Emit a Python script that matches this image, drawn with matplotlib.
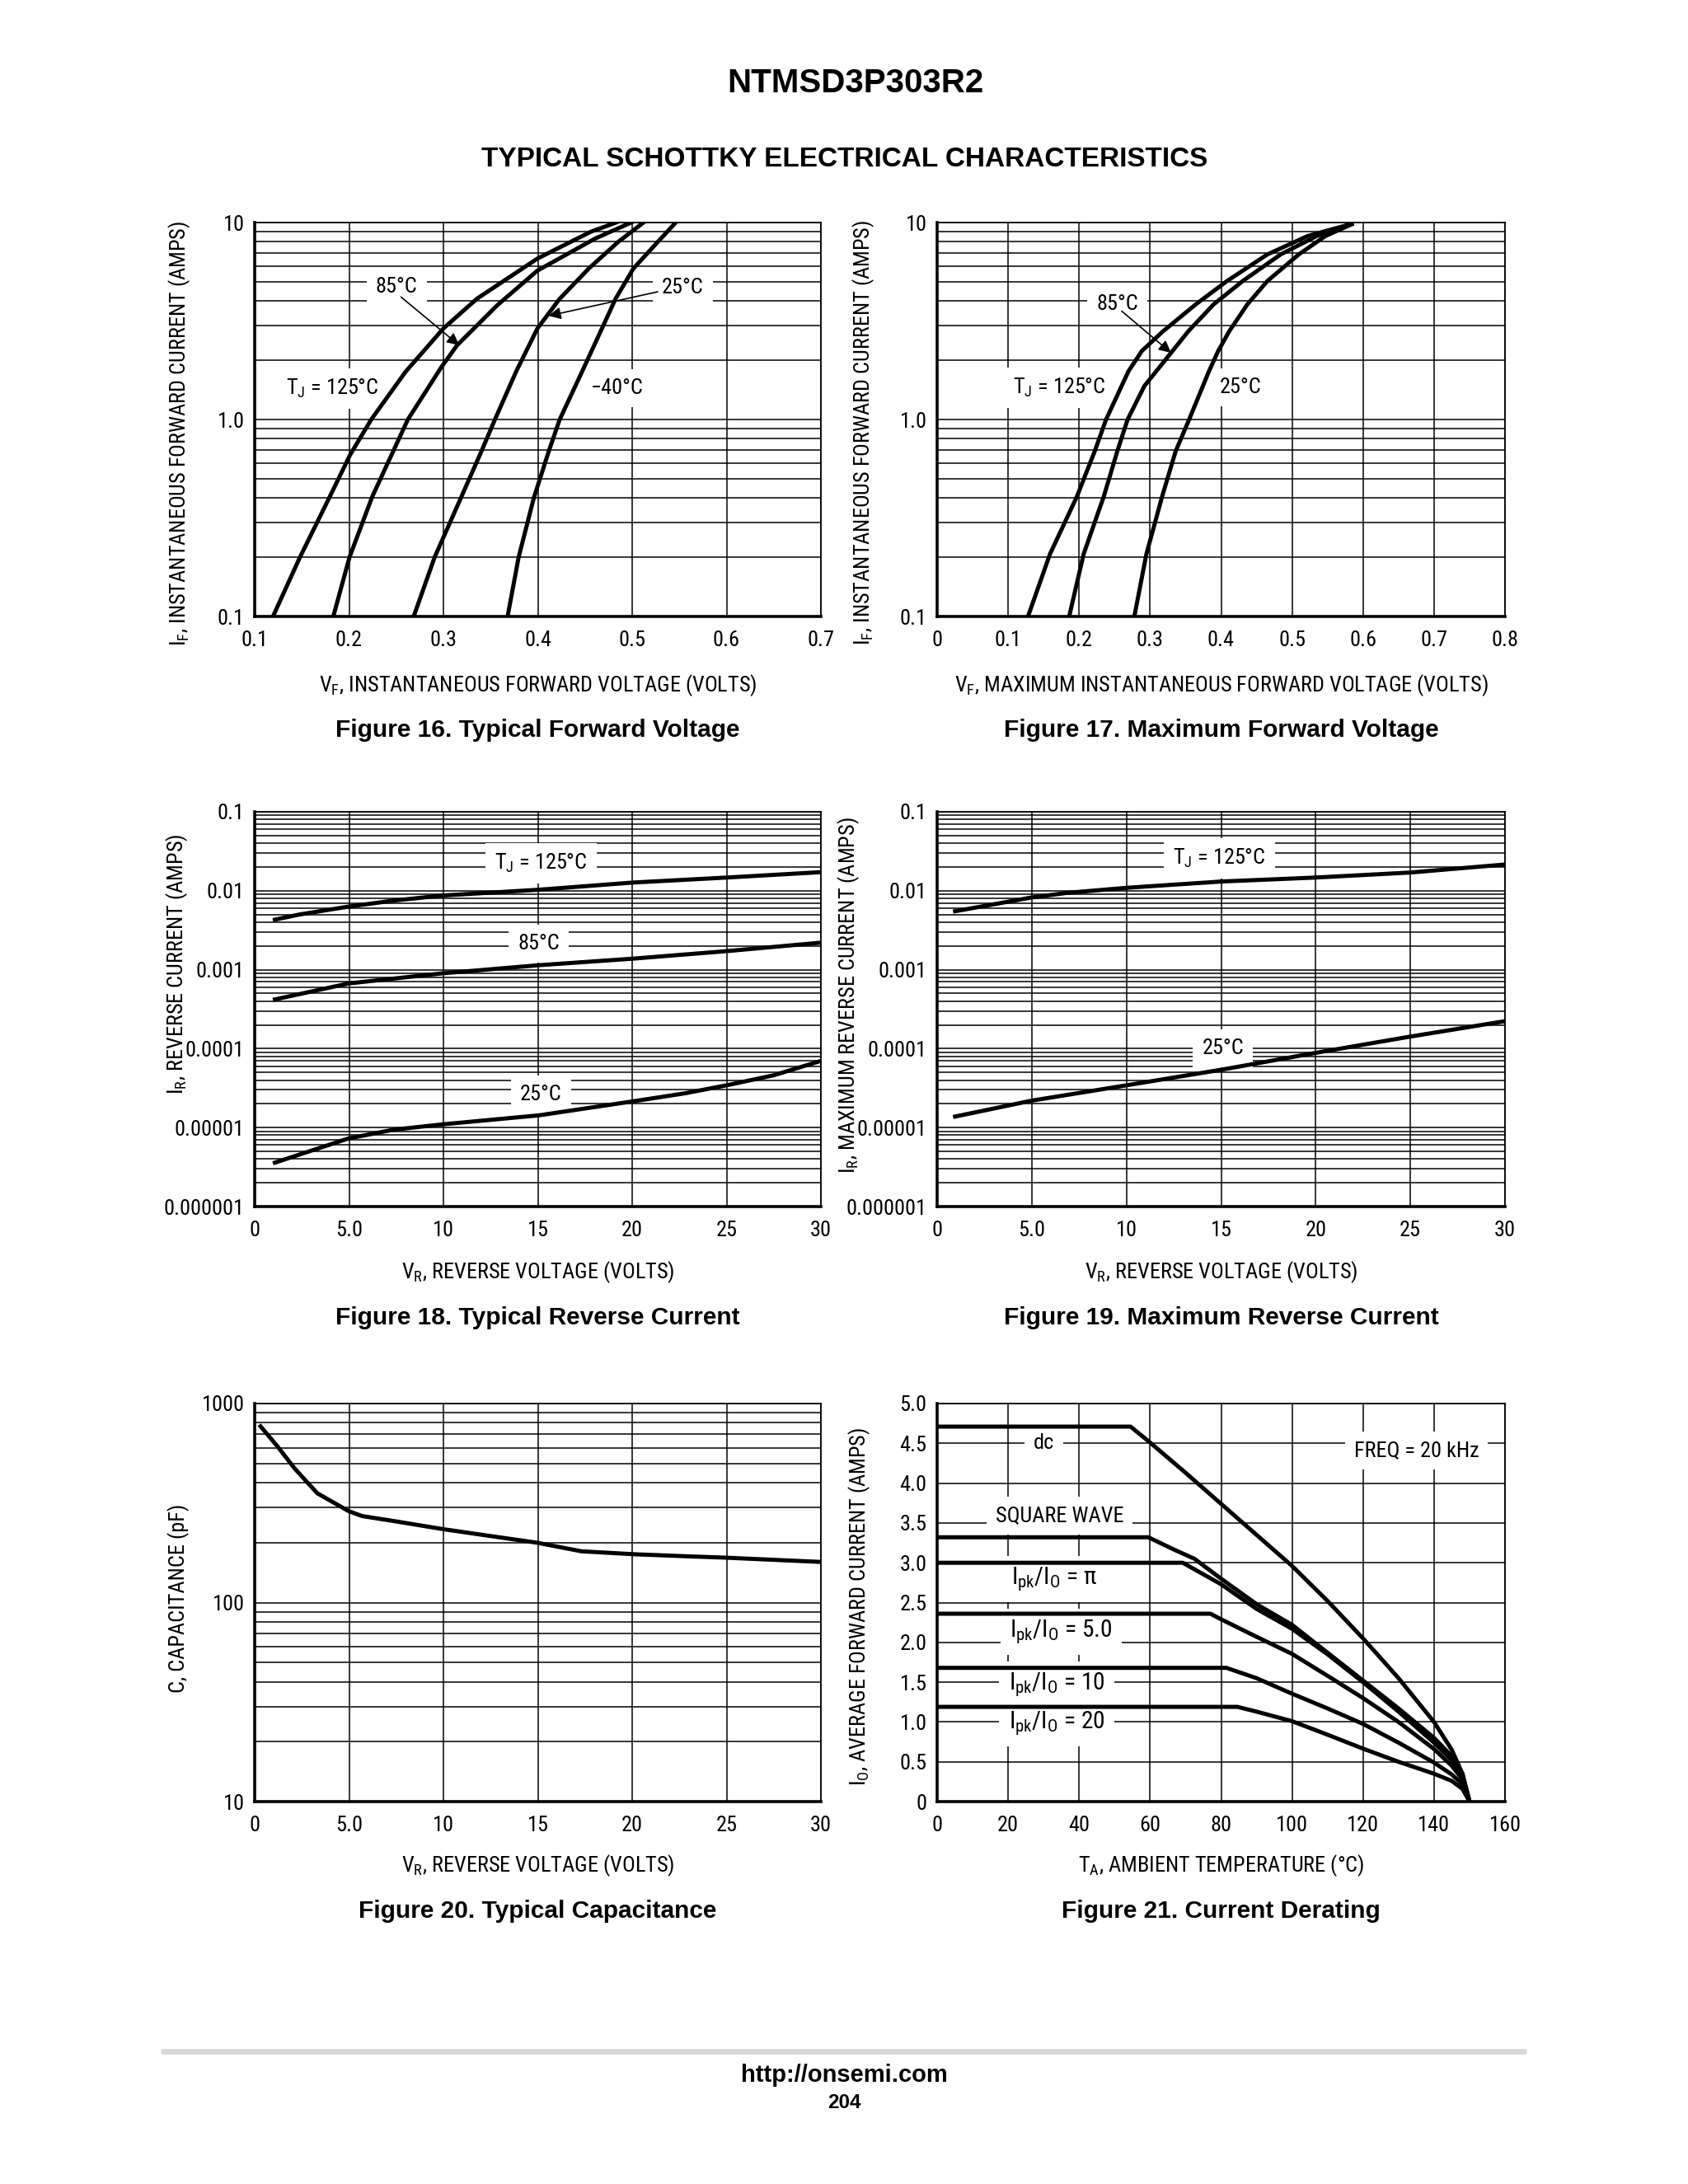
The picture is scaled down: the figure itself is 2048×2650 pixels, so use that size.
import matplotlib
matplotlib.use("Agg")
import matplotlib.pyplot as plt
from matplotlib import font_manager
from matplotlib.ticker import LogLocator, NullFormatter

# ---- Figure 16: typical forward voltage ----
f16_v125 = [0.1194, 0.148, 0.1795, 0.201, 0.2235, 0.260, 0.300, 0.3357, 0.3996, 0.456, 0.483]
f16_i125 = [0.1, 0.2, 0.405, 0.66, 1.0, 1.75, 2.9, 4.11, 6.56, 8.97, 10]
f16_v85 = [0.1833, 0.2005, 0.2245, 0.2623, 0.298, 0.3144, 0.357, 0.3996, 0.461, 0.499]
f16_i85 = [0.1, 0.2, 0.405, 1.0, 1.85, 2.38, 3.8, 5.7, 8.3, 10]
f16_v25 = [0.2685, 0.2907, 0.319, 0.340, 0.3546, 0.377, 0.3996, 0.4232, 0.454, 0.485, 0.512]
f16_i25 = [0.1, 0.2, 0.405, 0.685, 1.0, 1.75, 2.9, 4.1, 5.84, 7.96, 10]
f16_vm40 = [0.368, 0.3797, 0.3958, 0.4114, 0.4232, 0.4469, 0.468, 0.4824, 0.5013, 0.527, 0.5453]
f16_im40 = [0.1, 0.2, 0.4, 0.685, 1.0, 1.75, 2.9, 4.1, 5.84, 7.96, 9.9]

# ---- Figure 17: maximum forward voltage ----
f17_v125 = [0.128, 0.159, 0.197, 0.222, 0.238, 0.2696, 0.2885, 0.318, 0.3643, 0.4085, 0.4653, 0.522, 0.582]
f17_i125 = [0.1, 0.2075, 0.407, 0.69, 1.0, 1.76, 2.23, 2.8, 3.84, 5.05, 6.89, 8.54, 9.8]
f17_v85 = [0.186, 0.2064, 0.2348, 0.2538, 0.2683, 0.292, 0.3295, 0.354, 0.3895, 0.4306, 0.484, 0.5347, 0.584]
f17_i85 = [0.1, 0.2075, 0.407, 0.69, 1.0, 1.48, 2.18, 2.81, 3.84, 5.05, 6.89, 8.54, 9.8]
f17_v25 = [0.2778, 0.2948, 0.317, 0.336, 0.355, 0.383, 0.396, 0.4116, 0.437, 0.4653, 0.5095, 0.547, 0.584]
f17_i25 = [0.1, 0.2075, 0.407, 0.69, 1.0, 1.76, 2.23, 2.81, 3.84, 5.05, 6.89, 8.54, 9.8]

# ---- Figure 18: typical reverse current ----
f18_v125 = [1.07, 2.37, 4.98, 7.35, 9.96, 15.06, 20.04, 25.02, 30]
f18_i125 = [4.3e-3, 5.0e-3, 6.3e-3, 7.5e-3, 8.7e-3, 1.03e-2, 1.27e-2, 1.47e-2, 1.72e-2]
f18_v85 = [1.07, 4.98, 9.96, 15.06, 20.04, 25.02, 30]
f18_i85 = [4.2e-4, 6.7e-4, 9.0e-4, 1.14e-3, 1.38e-3, 1.72e-3, 2.2e-3]
f18_v25 = [1.07, 4.98, 7.35, 9.96, 15.06, 20.04, 22.8, 25.02, 27.5, 30]
f18_i25 = [3.6e-6, 7.3e-6, 9.4e-6, 1.1e-5, 1.43e-5, 2.15e-5, 2.72e-5, 3.44e-5, 4.6e-5, 7.0e-5]

# ---- Figure 19: maximum reverse current ----
f19_v125 = [0.95, 4.97, 6.87, 10.02, 15.04, 20, 24.98, 30]
f19_i125 = [5.5e-3, 8.2e-3, 9.4e-3, 1.09e-2, 1.31e-2, 1.47e-2, 1.70e-2, 2.15e-2]
f19_v25 = [0.95, 4.97, 10.02, 15.04, 20, 24.98, 30]
f19_i25 = [1.38e-5, 2.19e-5, 3.44e-5, 5.42e-5, 8.85e-5, 1.42e-4, 2.23e-4]

# ---- Figure 20: typical capacitance ----
f20_v = [0.31, 1.19, 2.13, 3.32, 4.98, 5.69, 7.35, 9.96, 12.33, 14.94, 17.31, 20.04, 22.76, 25.02, 30]
f20_c = [768, 612, 470, 354, 288, 272, 257, 234, 217, 200, 181, 175, 171, 168, 160]

# ---- Figure 21: current derating ----
dc_t = [0, 54.5, 60, 70, 80, 90, 100, 110, 120, 130, 140, 145, 148, 150]
dc_i = [4.71, 4.71, 4.51, 4.13, 3.74, 3.35, 2.96, 2.52, 2.05, 1.55, 1.0, 0.65, 0.35, 0]
sq_t = [0, 59.5, 67, 72.5, 80, 90, 100, 110, 120, 130, 140, 145, 148, 150]
sq_i = [3.32, 3.32, 3.16, 3.05, 2.80, 2.48, 2.22, 1.87, 1.52, 1.17, 0.80, 0.57, 0.35, 0]
pi_t = [0, 69.2, 80, 90, 100, 110, 120, 130, 140, 145, 148, 150]
pi_i = [3.0, 3.0, 2.73, 2.42, 2.17, 1.85, 1.50, 1.13, 0.74, 0.52, 0.32, 0]
p5_t = [0, 77, 80, 90, 100, 110, 120, 130, 140, 145, 148, 150]
p5_i = [2.36, 2.36, 2.29, 2.07, 1.855, 1.58, 1.30, 1.00, 0.66, 0.45, 0.28, 0]
p10_t = [0, 81.5, 90, 100, 110, 120, 130, 140, 145, 148, 150]
p10_i = [1.68, 1.68, 1.55, 1.355, 1.17, 0.976, 0.74, 0.49, 0.34, 0.22, 0]
p20_t = [0, 84.6, 90, 100, 110, 120, 130, 140, 145, 148, 150]
p20_i = [1.19, 1.19, 1.13, 1.01, 0.84, 0.665, 0.50, 0.35, 0.26, 0.16, 0]

# pick a condensed face if one is installed, else plain Liberation Sans
names = {f.name for f in font_manager.fontManager.ttflist}
narrow = next((n for n in ['Liberation Sans Narrow', 'Arial Narrow', 'Roboto Condensed'] if n in names), None)
if narrow:
    FONT, K = narrow, 1.18
else:
    FONT, K = 'Liberation Sans', 1.0
plt.rcParams['font.family'] = [FONT, 'DejaVu Sans']
plt.rcParams['mathtext.default'] = 'regular'
bold = ['Liberation Sans', 'DejaVu Sans']

CURVE_LW = 3.6
GRID_LW = 1.1
TICK_FS = 16 * K
LABEL_FS = 16 * K
NOTE_FS = 16 * K
BOX = dict(facecolor='white', edgecolor='none', pad=8)

fig = plt.figure(figsize=(20.48, 26.5), dpi=100)


def rect(l, r, t, b):
    return [l / 2048, 1 - b / 2650, (r - l) / 2048, (b - t) / 2650]


def style(ax, logy=False):
    if logy:
        ax.set_yscale('log')
        ax.yaxis.set_minor_locator(LogLocator(base=10, subs=range(2, 10), numticks=20))
        ax.yaxis.set_minor_formatter(NullFormatter())
        ax.grid(which='minor', axis='y', color='black', lw=GRID_LW)
    ax.grid(which='major', axis='both', color='black', lw=GRID_LW)
    ax.tick_params(which='both', length=0, labelsize=TICK_FS)
    ax.tick_params(axis='y', pad=9)
    ax.tick_params(axis='x', pad=12)
    for s in ['top', 'right']:
        ax.spines[s].set_linewidth(1.3)
    for s in ['left', 'bottom']:
        ax.spines[s].set_linewidth(2.6)
    ax.set_axisbelow(True)


def note(ax, x, y, s, fs=None):
    ax.text(x, y, s, fontsize=fs or NOTE_FS, ha='center', va='center', bbox=BOX, zorder=3)


def arrow(ax, tail, head):
    ax.annotate('', xy=head, xytext=tail,
                arrowprops=dict(arrowstyle='-|>', color='black', lw=1.2,
                                mutation_scale=22, shrinkA=0, shrinkB=0), zorder=4)


C1 = (309, 996)
C2 = (1137, 1826)
R1 = (270, 748)
R2 = (985, 1464)
R3 = (1703, 2186)

ax16 = fig.add_axes(rect(*C1, *R1))
ax17 = fig.add_axes(rect(*C2, *R1))
ax18 = fig.add_axes(rect(*C1, *R2))
ax19 = fig.add_axes(rect(*C2, *R2))
ax20 = fig.add_axes(rect(*C1, *R3))
ax21 = fig.add_axes(rect(*C2, *R3))

# Figure 16
ax = ax16
style(ax, logy=True)
for v, i in [(f16_v125, f16_i125), (f16_v85, f16_i85), (f16_v25, f16_i25), (f16_vm40, f16_im40)]:
    ax.plot(v, i, color='black', lw=CURVE_LW, zorder=5)
ax.set_xlim(0.1, 0.7)
ax.set_ylim(0.1, 10)
ax.set_xticks([0.1, 0.2, 0.3, 0.4, 0.5, 0.6, 0.7])
ax.set_xticklabels(['0.1', '0.2', '0.3', '0.4', '0.5', '0.6', '0.7'])
ax.set_yticks([0.1, 1, 10])
ax.set_yticklabels(['0.1', '1.0', '10'])
note(ax, 0.2505, 4.71, '85°C')
arrow(ax, (0.255, 4.19), (0.3167, 2.38))
note(ax, 0.5534, 4.65, '25°C')
arrow(ax, (0.527, 4.45), (0.4114, 3.36))
note(ax, 0.182, 1.44, r'T$_J$ = 125°C')
note(ax, 0.4838, 1.44, '\u221240°C')
ax.set_xlabel(r'V$_F$, INSTANTANEOUS FORWARD VOLTAGE (VOLTS)', fontsize=LABEL_FS)
ax.set_ylabel(r'I$_F$, INSTANTANEOUS FORWARD CURRENT (AMPS)', fontsize=LABEL_FS)
ax.xaxis.set_label_coords(0.5, -0.142)
ax.yaxis.set_label_coords(-0.11, 0.464)

# Figure 17
ax = ax17
style(ax, logy=True)
for v, i in [(f17_v125, f17_i125), (f17_v85, f17_i85), (f17_v25, f17_i25)]:
    ax.plot(v, i, color='black', lw=CURVE_LW, zorder=5)
ax.set_xlim(0, 0.8)
ax.set_ylim(0.1, 10)
ax.set_xticks([0, 0.1, 0.2, 0.3, 0.4, 0.5, 0.6, 0.7, 0.8])
ax.set_xticklabels(['0', '0.1', '0.2', '0.3', '0.4', '0.5', '0.6', '0.7', '0.8'])
ax.set_yticks([0.1, 1, 10])
ax.set_yticklabels(['0.1', '1.0', '10'])
note(ax, 0.254, 3.84, '85°C')
arrow(ax, (0.26, 3.55), (0.3295, 2.18))
note(ax, 0.1717, 1.45, r'T$_J$ = 125°C')
note(ax, 0.4274, 1.45, '25°C')
ax.set_xlabel(r'V$_F$, MAXIMUM INSTANTANEOUS FORWARD VOLTAGE (VOLTS)', fontsize=LABEL_FS)
ax.set_ylabel(r'I$_F$, INSTANTANEOUS FORWARD CURRENT (AMPS)', fontsize=LABEL_FS)
ax.xaxis.set_label_coords(0.5, -0.142)
ax.yaxis.set_label_coords(-0.107, 0.466)

rev_ticks = [1e-6, 1e-5, 1e-4, 1e-3, 1e-2, 1e-1]
rev_labels = ['0.000001', '0.00001', '0.0001', '0.001', '0.01', '0.1']
vr_ticks = [0, 5, 10, 15, 20, 25, 30]
vr_labels = ['0', '5.0', '10', '15', '20', '25', '30']

# Figure 18
ax = ax18
style(ax, logy=True)
for v, i in [(f18_v125, f18_i125), (f18_v85, f18_i85), (f18_v25, f18_i25)]:
    ax.plot(v, i, color='black', lw=CURVE_LW, zorder=5)
ax.set_xlim(0, 30)
ax.set_ylim(1e-6, 0.1)
ax.set_xticks(vr_ticks)
ax.set_xticklabels(vr_labels)
ax.set_yticks(rev_ticks)
ax.set_yticklabels(rev_labels)
note(ax, 15.18, 0.0221, r'T$_J$ = 125°C')
note(ax, 15.06, 2.15e-3, '85°C')
note(ax, 15.18, 2.6e-5, '25°C')
ax.set_xlabel(r'V$_R$, REVERSE VOLTAGE (VOLTS)', fontsize=LABEL_FS)
ax.set_ylabel(r'I$_R$, REVERSE CURRENT (AMPS)', fontsize=LABEL_FS)
ax.xaxis.set_label_coords(0.5, -0.134)
ax.yaxis.set_label_coords(-0.115, 0.615)

# Figure 19
ax = ax19
style(ax, logy=True)
for v, i in [(f19_v125, f19_i125), (f19_v25, f19_i25)]:
    ax.plot(v, i, color='black', lw=CURVE_LW, zorder=5)
ax.set_xlim(0, 30)
ax.set_ylim(1e-6, 0.1)
ax.set_xticks(vr_ticks)
ax.set_xticklabels(vr_labels)
ax.set_yticks(rev_ticks)
ax.set_yticklabels(rev_labels)
note(ax, 14.92, 0.0255, r'T$_J$ = 125°C')
note(ax, 15.1, 1.02e-4, '25°C')
ax.set_xlabel(r'V$_R$, REVERSE VOLTAGE (VOLTS)', fontsize=LABEL_FS)
ax.set_ylabel(r'I$_R$, MAXIMUM REVERSE CURRENT (AMPS)', fontsize=LABEL_FS)
ax.xaxis.set_label_coords(0.5, -0.134)
ax.yaxis.set_label_coords(-0.134, 0.535)

# Figure 20
ax = ax20
style(ax, logy=True)
ax.plot(f20_v, f20_c, color='black', lw=CURVE_LW, zorder=5)
ax.set_xlim(0, 30)
ax.set_ylim(10, 1000)
ax.set_xticks(vr_ticks)
ax.set_xticklabels(vr_labels)
ax.set_yticks([10, 100, 1000])
ax.set_yticklabels(['10', '100', '1000'])
ax.set_xlabel(r'V$_R$, REVERSE VOLTAGE (VOLTS)', fontsize=LABEL_FS)
ax.set_ylabel('C, CAPACITANCE (pF)', fontsize=LABEL_FS)
ax.xaxis.set_label_coords(0.5, -0.129)
ax.yaxis.set_label_coords(-0.115, 0.51)

# Figure 21
ax = ax21
style(ax)
for t, i in [(dc_t, dc_i), (sq_t, sq_i), (pi_t, pi_i), (p5_t, p5_i), (p10_t, p10_i), (p20_t, p20_i)]:
    ax.plot(t, i, color='black', lw=CURVE_LW, zorder=5)
ax.set_xlim(0, 160)
ax.set_ylim(0, 5.0)
ax.set_xticks(range(0, 161, 20))
ax.set_yticks([0, 0.5, 1.0, 1.5, 2.0, 2.5, 3.0, 3.5, 4.0, 4.5, 5.0])
ax.set_yticklabels(['0', '0.5', '1.0', '1.5', '2.0', '2.5', '3.0', '3.5', '4.0', '4.5', '5.0'])
note(ax, 30, 4.5, 'dc')
note(ax, 135, 4.41, 'FREQ = 20 kHz')
note(ax, 34.5, 3.59, 'SQUARE WAVE')
note(ax, 33, 2.79, r'I$_{pk}$/I$_O$ = π', fs=18 * K)
note(ax, 35, 2.13, r'I$_{pk}$/I$_O$ = 5.0', fs=18 * K)
note(ax, 33.7, 1.47, r'I$_{pk}$/I$_O$ = 10', fs=18 * K)
note(ax, 33.7, 0.98, r'I$_{pk}$/I$_O$ = 20', fs=18 * K)
ax.set_xlabel(r'T$_A$, AMBIENT TEMPERATURE (°C)', fontsize=LABEL_FS)
ax.set_ylabel(r'I$_O$, AVERAGE FORWARD CURRENT (AMPS)', fontsize=LABEL_FS)
ax.xaxis.set_label_coords(0.5, -0.129)
ax.yaxis.set_label_coords(-0.114, 0.49)

# captions
cx1 = (C1[0] + C1[1]) / 2 / 2048
cx2 = (C2[0] + C2[1]) / 2 / 2048
captions = [
    (cx1, 886, 'Figure 16. Typical Forward Voltage'),
    (cx2, 886, 'Figure 17. Maximum Forward Voltage'),
    (cx1, 1599, 'Figure 18. Typical Reverse Current'),
    (cx2, 1599, 'Figure 19. Maximum Reverse Current'),
    (cx1, 2319, 'Figure 20. Typical Capacitance'),
    (cx2, 2319, 'Figure 21. Current Derating'),
]
for x, ypx, s in captions:
    fig.text(x, 1 - ypx / 2650, s, ha='center', va='center',
             fontsize=21.5, fontweight='bold', family=bold)

# page header / footer
fig.text(0.507, 1 - 101 / 2650, 'NTMSD3P303R2', ha='center', va='center',
         fontsize=29, fontweight='bold', family=bold)
fig.text(0.5005, 1 - 193 / 2650, 'TYPICAL SCHOTTKY ELECTRICAL CHARACTERISTICS', ha='center', va='center',
         fontsize=24, fontweight='bold', family=bold)
fig.add_artist(plt.Line2D([0.0966, 0.9028], [1 - 2489 / 2650] * 2, color='#d9d9d9', lw=5,
                          solid_capstyle='round'))
fig.text(0.500, 1 - 2518 / 2650, 'http://onsemi.com', ha='center', va='center',
         fontsize=21, fontweight='bold', family=bold)
fig.text(0.500, 1 - 2552 / 2650, '204', ha='center', va='center',
         fontsize=17.5, fontweight='bold', family=bold)

fig.savefig('out.png', dpi=100, facecolor='white')
